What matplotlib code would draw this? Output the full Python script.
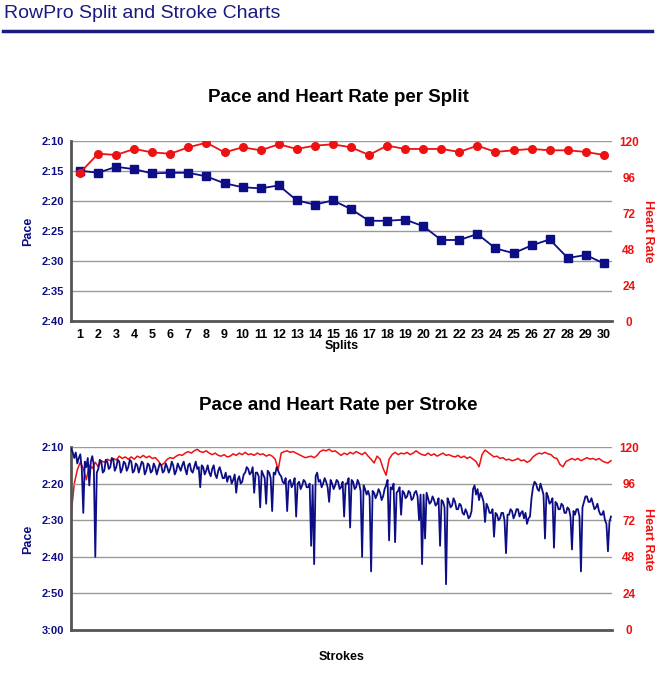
import numpy as np
import matplotlib
matplotlib.use("Agg")
import matplotlib.pyplot as plt
from matplotlib.lines import Line2D

plt.rcParams['font.family'] = ['Liberation Sans', 'DejaVu Sans']

# ---------------- data ----------------
splits = list(range(1, 31))
split_pace = [134.95, 135.3, 134.3, 134.7, 135.4, 135.3, 135.3, 135.9, 137.05, 137.7,
              137.9, 137.4, 139.9, 140.6, 139.9, 141.35, 143.3, 143.3, 143.1, 144.2,
              146.5, 146.5, 145.5, 147.9, 148.7, 147.4, 146.4, 149.5, 149.0, 150.4]
split_hr = [98.9, 111.5, 110.7, 114.7, 112.4, 111.5, 115.8, 118.9, 112.4, 115.8,
            113.8, 117.8, 114.7, 116.9, 117.8, 115.8, 110.7, 116.9, 114.7, 114.7,
            114.7, 112.7, 116.9, 112.7, 113.8, 114.7, 113.8, 113.8, 112.7, 110.7]

# pace per stroke (seconds per 500 m), 361 samples
stroke_pace = [
    130.5, 131.5, 133, 131.5, 134.5, 133, 132, 136, 148, 134,
    135.5, 133, 140.5, 134, 132.5, 135, 160, 137, 136, 133.5,
    134, 137, 136.5, 133.5, 134, 136, 135.5, 133, 133.5, 136.5,
    135.5, 133.5, 134, 137, 136, 134, 134.5, 136.5, 135.5, 133.5,
    134, 137, 136.5, 134.5, 135, 137, 135.5, 134, 134.5, 137.5,
    136.5, 134.5, 135, 137, 136.5, 134.5, 135.5, 137.5, 136, 134.5,
    135, 137, 136.5, 134.5, 135.5, 137, 136, 134, 135, 137.5,
    136.5, 134.5, 135.5, 136.5, 135, 134, 136, 137.5, 135, 134.5,
    136.5, 137, 135.5, 134, 136, 135.5, 141, 135, 135.5, 137.5,
    136.5, 135, 137, 138, 136, 135, 137.5, 138.5, 136.5, 135.5,
    137, 138.5, 138.5, 137, 139.5, 138, 138, 140, 139, 137.5,
    142.5, 139, 138, 140, 139.5, 137.5, 137, 135.5, 136, 137.5,
    137, 135.5, 142.5, 137, 137, 138, 146.5, 136.5, 137.5, 138.5,
    145.5, 136.5, 137, 138.5, 147.5, 137, 137.5, 135.5, 136.5, 137.5,
    138, 139.5, 140, 138.5, 147.5, 139.5, 139, 141, 140, 138.5,
    149, 140, 139.5, 141.5, 140.5, 139, 139.5, 141, 141, 140,
    157, 140.5, 162, 138, 137, 139.5, 139, 141, 140, 138.5,
    139.5, 141, 145, 139, 140, 141.5, 140.5, 139, 139.5, 141.5,
    141, 139.5, 149, 140, 140, 138.5, 152, 139, 139.5, 141.5,
    141, 139, 140, 142, 160, 140.5, 141.5, 143, 142, 143.5,
    164, 142, 142.5, 144, 143, 141.5, 142.5, 144.5, 143.5, 141.5,
    140.5, 139, 155.5, 141, 141.5, 140, 156, 142.5, 142, 141,
    148.5, 142, 142.5, 144, 143.5, 142, 142.5, 144.5, 144, 142.5,
    142, 143.5, 150, 143, 162, 143, 155, 142.5, 144, 145.5,
    145, 143.5, 144.5, 146, 145.5, 144, 157, 144.5, 145, 146.5,
    167.5, 144, 145, 146.5, 146, 144, 145, 147, 147, 145.5,
    146, 148, 148.5, 147, 148, 149.5, 149, 147.5, 141.5, 140.5,
    143, 141.5, 144.5, 142.5, 143.5, 145, 150.5, 145.5, 146.5, 148,
    148, 147, 154.5, 148, 148.5, 150, 149.5, 148, 148, 150,
    159, 148.5, 148.5, 147, 147.5, 149.5, 148.5, 147, 147, 149,
    148, 147.5, 149.5, 148, 151, 149.5, 149, 144, 141, 139.5,
    140, 141.5, 142, 140, 141.5, 143, 155, 142.5, 143.5, 145.5,
    145, 144, 157.5, 145, 145.5, 147, 147, 145.5, 146, 148,
    148, 146.5, 147, 149, 158, 147.5, 148.5, 147, 147, 149,
    164, 146.5, 145, 143.5, 143.5, 145, 145, 144, 145.5, 147,
    146.5, 145.5, 147.5, 148.5, 148.5, 147.5, 150, 151, 158.5, 150.5,
    149]

# heart rate per stroke (bpm), 181 samples
stroke_hr = [77, 96, 105, 110, 106, 98.5, 108, 106, 110, 107,
             111, 110, 112, 111, 112.5, 111.5, 114, 112.5, 113.5, 112,
             113.5, 112, 114, 113, 114.5, 113, 114, 112.5, 113, 111,
             108, 109.5, 112, 113, 112.5, 114, 115, 114.5, 116, 117,
             116, 117.5, 118.5, 117, 116.5, 117.5, 116, 115, 116, 114.5,
             114, 115, 113.5, 114, 115.5, 114.5, 116, 115, 116.5, 115,
             115.5, 114.5, 116, 115, 115.5, 114, 115, 114, 112, 105,
             116, 117, 117.5, 116.5, 117, 116, 115, 114, 113, 113.5,
             114, 113, 114.5, 117, 118, 117.5, 118.5, 117, 117.5, 116,
             114.5, 116, 115, 116.5, 115.5, 117, 116, 115, 116.5, 114,
             112, 109.5, 114, 112, 106, 101.5, 112, 115, 116.5, 115,
             116, 115.5, 116.5, 115, 116, 117.5, 116, 115, 114.5, 116,
             114.5, 115.5, 114, 115, 116, 114.5, 115, 114, 113.5, 114.5,
             113, 114, 112.5, 113.5, 112, 110.5, 107, 115, 118, 116.5,
             115, 113.5, 114, 112.5, 113, 111.5, 112, 111, 111.5, 112.5,
             111, 111.5, 110, 111, 113.5, 115, 116, 115.5, 116.5, 115.5,
             115, 113, 112.5, 108.5, 107, 110.5, 111.5, 112.5, 111.5, 112.5,
             111, 112, 113, 112, 112.5, 111.5, 112.5, 111, 110, 109.5,
             111]

top_pace_ticks = [130, 135, 140, 145, 150, 155, 160]
top_pace_labels = ['2:10', '2:15', '2:20', '2:25', '2:30', '2:35', '2:40']
bot_pace_ticks = [130, 140, 150, 160, 170, 180]
bot_pace_labels = ['2:10', '2:20', '2:30', '2:40', '2:50', '3:00']
hr_ticks = [0, 24, 48, 72, 96, 120]

# ---------------- style ----------------
W, H = 662, 674
NAVY = '#0d0d85'
RED = '#ee1111'
GRID = '#9a9a9a'
SPINE = '#555555'

fig = plt.figure(figsize=(W / 100, H / 100), dpi=100)


def fx(px):
    return px / W


def fy(py):
    return 1 - py / H


# header
fig.text(fx(4), fy(13), 'RowPro Split and Stroke Charts', fontsize=14, color='#1a1a80',
         ha='left', va='center')
fig.add_artist(Line2D([fx(3), fx(652)], [fy(31), fy(31)], color='#1a1a80', lw=2.5,
                      transform=fig.transFigure))


def style_axes(ax, ax2, pticks, plabels, plim, label_y):
    ax.set_ylim(plim[1], plim[0])
    ax.set_yticks(pticks)
    ax.set_yticklabels(plabels, fontsize=8, fontweight='bold', color=NAVY)
    ax.tick_params(axis='y', length=0, pad=5)
    ax.grid(axis='y', color=GRID, lw=1)
    ax.set_axisbelow(True)
    for s in ['top', 'right']:
        ax.spines[s].set_visible(False)
    for s in ['left', 'bottom']:
        ax.spines[s].set_color(SPINE)
        ax.spines[s].set_linewidth(2)
    ax2.set_ylim(0, 120)
    ax2.set_yticks(hr_ticks)
    ax2.set_yticklabels([str(t) for t in hr_ticks], fontsize=8.5, fontweight='bold',
                        color=RED, ha='center')
    ax2.tick_params(axis='y', length=0, pad=12)
    for s in ax2.spines.values():
        s.set_visible(False)
    fig.text(fx(28), fy(label_y), 'Pace', fontsize=9, fontweight='bold', color=NAVY,
             rotation=90, ha='center', va='center')
    fig.text(fx(648), fy(label_y), 'Heart Rate', fontsize=9, fontweight='bold', color=RED,
             rotation=270, ha='center', va='center')


# ---------------- top chart ----------------
ax = fig.add_axes([fx(71), fy(321), fx(612) - fx(71), fy(141) - fy(321)])
ax2 = ax.twinx()
style_axes(ax, ax2, top_pace_ticks, top_pace_labels, (130, 160), 231)
ax.set_xlim(0.5, 30.45)
ax.set_xticks(splits)
ax.set_xticklabels([str(s) for s in splits], fontsize=9, fontweight='bold')
ax.tick_params(axis='x', length=0, pad=6)
ax.set_xlabel('Splits', fontsize=9, fontweight='bold', labelpad=-1)
ax.plot(splits, split_pace, color=NAVY, lw=1.3, marker='s', ms=5.5, zorder=3)
ax2.plot(splits, split_hr, color=RED, lw=1.3, marker='o', ms=5.5, zorder=3)
fig.text(fx(338), fy(98), 'Pace and Heart Rate per Split', fontsize=13.5,
         fontweight='bold', ha='center', va='center')

# ---------------- bottom chart ----------------
bx = fig.add_axes([fx(71), fy(630), fx(612) - fx(71), fy(447) - fy(630)])
bx2 = bx.twinx()
style_axes(bx, bx2, bot_pace_ticks, bot_pace_labels, (130, 180), 539)
pace_strokes = np.arange(len(stroke_pace))
hr_strokes = np.arange(len(stroke_hr)) * 2
bx.set_xlim(-0.2, pace_strokes[-1] + 0.7)
bx.set_xticks([])
bx.set_xlabel('Strokes', fontsize=9, fontweight='bold', labelpad=15)
bx2.plot(hr_strokes, stroke_hr, color=RED, lw=1.1, zorder=2)
bx.plot(pace_strokes, stroke_pace, color=NAVY, lw=1.3, zorder=3)
bx.set_zorder(bx2.get_zorder() + 1)
bx.patch.set_visible(False)
fig.text(fx(338), fy(405), 'Pace and Heart Rate per Stroke', fontsize=13.5,
         fontweight='bold', ha='center', va='center')

fig.savefig('out.png', dpi=100)
